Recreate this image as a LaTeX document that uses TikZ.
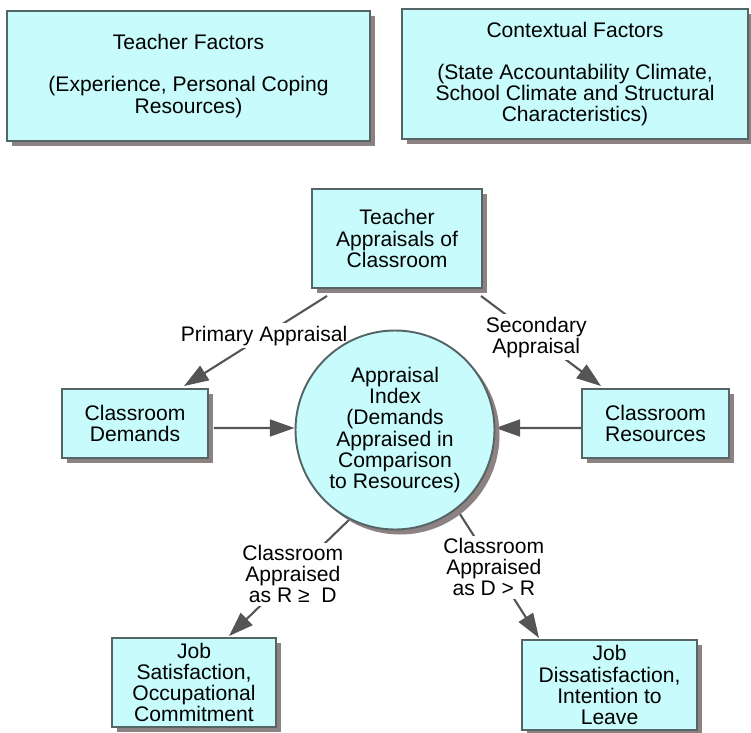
\documentclass[tikz,border=0pt]{standalone}
\usepackage{fontspec}
\setmainfont{Liberation Sans}
\usetikzlibrary{arrows.meta,shadows}

\definecolor{boxfill}{RGB}{200,251,252}
\definecolor{boxline}{RGB}{85,100,100}
\definecolor{shadowgray}{RGB}{140,130,130}
\definecolor{flowgray}{RGB}{85,85,85}

\pgfdeclarelayer{back}
\pgfsetlayers{back,main}

\tikzset{
	box/.style={draw=boxline, line width=1.1pt, fill=boxfill, align=center,
		inner sep=0pt, font=\fontsize{12}{12}\selectfont,
		drop shadow={shadow xshift=0.1cm, shadow yshift=-0.1cm, fill=shadowgray, opacity=1}},
	flow/.style={draw=flowgray, line width=1.2pt,
		-{Triangle[length=14pt, width=9.6pt, fill=flowgray]}},
	lbl/.style={fill=white, inner sep=1.5pt, align=center, font=\fontsize{12}{12}\selectfont}
}

\begin{document}
\begin{tikzpicture}
			%%%%% START %%%%%
			\useasboundingbox (0, 0) rectangle (15.02, -14.64);
			
			% factor boxes at the top
			\node[box, minimum width=7.26cm, minimum height=2.6cm] (tf) at (3.77, -1.52)
				{Teacher Factors\\[12pt](Experience, Personal Coping\\Resources)};
			\node[box, minimum width=6.92cm, minimum height=2.6cm] (cf) at (11.5, -1.48)
				{Contextual Factors\\[12pt](State Accountability Climate,\\School Climate and Structural\\Characteristics)};
			
			% appraisal part
			\node[box, minimum width=3.4cm, minimum height=1.98cm] (tac) at (7.94, -4.77)
				{Teacher\\Appraisals of\\Classroom};
			\node[box, minimum width=2.92cm, minimum height=1.38cm] (cd) at (2.7, -8.47)
				{Classroom\\Demands};
			\node[box, minimum width=2.94cm, minimum height=1.38cm] (cr) at (13.11, -8.47)
				{Classroom\\Resources};
			\node[box, circle, minimum size=3.98cm] (ai) at (7.9, -8.6)
				{Appraisal\\Index\\(Demands\\Appraised in\\Comparison\\to Resources)};
			
			% outcomes
			\node[box, minimum width=3.28cm, minimum height=1.78cm] (js) at (3.88, -13.65)
				{Job\\Satisfaction,\\Occupational\\Commitment};
			\node[box, minimum width=3.5cm, minimum height=1.8cm] (jd) at (12.19, -13.7)
				{Job\\Dissatisfaction,\\Intention to\\Leave};
			
			% arrows, kept under the boxes
			\begin{pgfonlayer}{back}
			\draw[flow] ([xshift=0.32cm, yshift=-0.14cm]tac.south west) --
				node[lbl, pos=0.44] (lprim) {Primary Appraisal}
				([xshift=-0.5cm, yshift=0.04cm]cd.north east);
			\draw[flow] ([xshift=-0.04cm, yshift=-0.14cm]tac.south east) --
				node[lbl, pos=0.46] (lsec) {Secondary\\Appraisal}
				([xshift=0.4cm, yshift=0.04cm]cr.north west);
			\draw[flow] ([xshift=0.1cm, yshift=-0.09cm]cd.east) -- ([yshift=0.04cm]ai.west);
			\draw[flow] ([yshift=-0.09cm]cr.west) -- ([yshift=0.04cm]ai.east);
			\draw[flow] (ai.243) --
				node[lbl, pos=0.47] (lrd) {Classroom\\Appraised\\as R ≥~ D}
				([xshift=2.36cm, yshift=0.02cm]js.north west);
			\draw[flow] (ai.308) --
				node[lbl, pos=0.45] (ldr) {Classroom\\Appraised\\as D > R}
				([xshift=0.36cm, yshift=0.02cm]jd.north west);
			\end{pgfonlayer}
			
			%%%%% END %%%%%
\end{tikzpicture}
\end{document}
